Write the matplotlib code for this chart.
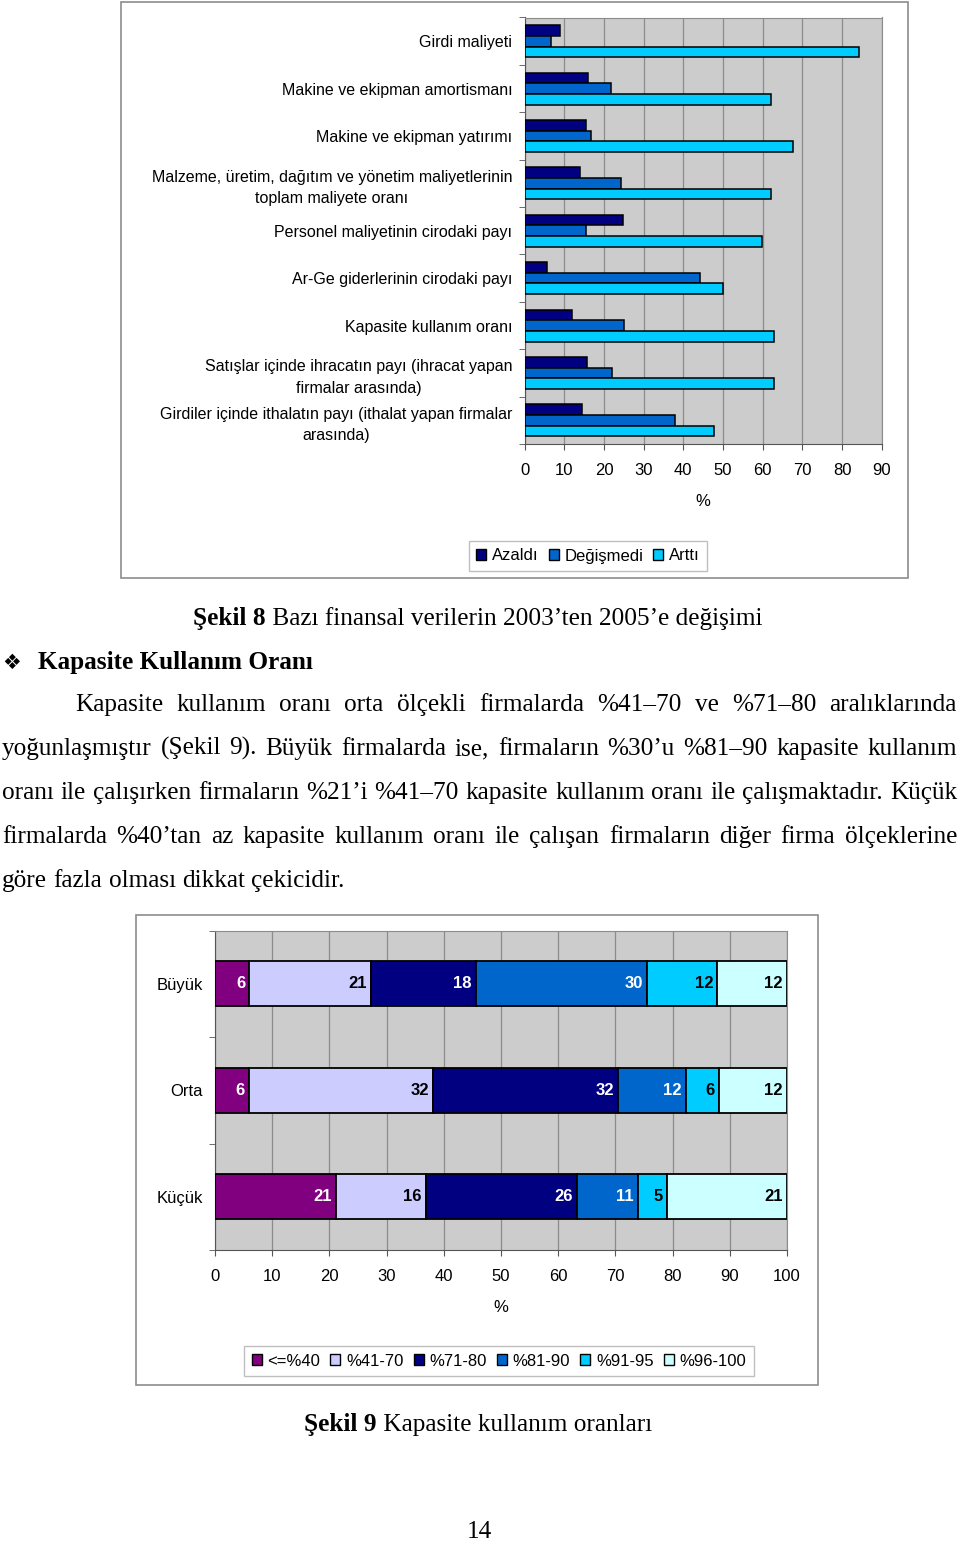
import numpy as np
import matplotlib
matplotlib.use('Agg')
import matplotlib.pyplot as plt
from matplotlib.patches import Rectangle, Patch

W, H = 960, 1541

# Şekil 8 verileri
kalemler = [
    'Girdi maliyeti',
    'Makine ve ekipman amortismanı',
    'Makine ve ekipman yatırımı',
    'Malzeme, üretim, dağıtım ve yönetim maliyetlerinin\ntoplam maliyete oranı',
    'Personel maliyetinin cirodaki payı',
    'Ar-Ge giderlerinin cirodaki payı',
    'Kapasite kullanım oranı',
    'Satışlar içinde ihracatın payı (ihracat yapan\nfirmalar arasında)',
    'Girdiler içinde ithalatın payı (ithalat yapan firmalar\narasında)',
]
azaldi = [9.0, 16.0, 15.5, 14.0, 24.7, 5.6, 12.0, 15.6, 14.5]
degismedi = [6.7, 21.8, 16.7, 24.3, 15.5, 44.2, 25.1, 21.9, 37.8]
artti = [84.4, 62.0, 67.7, 62.0, 59.7, 50.1, 62.9, 62.9, 47.8]
seriler8 = ['Azaldı', 'Değişmedi', 'Arttı']
renk8 = ['#000080', '#0066CC', '#00CCFF']
xtik8 = list(range(0, 100, 10))

# Şekil 9 verileri
olcekler = ['Büyük', 'Orta', 'Küçük']
araliklar = ['<=%40', '%41-70', '%71-80', '%81-90', '%91-95', '%96-100']
buyuk = [6.0, 21.2, 18.4, 30.0, 12.2, 12.2]
orta = [5.9, 32.2, 32.4, 11.8, 5.8, 11.9]
kucuk = [21.1, 15.8, 26.4, 10.6, 5.1, 21.0]
renk9 = ['#800080', '#CCCCFF', '#000080', '#0066CC', '#00CCFF', '#CCFFFF']
yazi_renk9 = ['white', 'black', 'white', 'white', 'black', 'black']
xtik9 = list(range(0, 110, 10))

paragraf = [
    'Kapasite kullanım oranı orta ölçekli firmalarda %41–70 ve %71–80 aralıklarında',
    'yoğunlaşmıştır (Şekil 9). Büyük firmalarda ise, firmaların %30’u %81–90 kapasite kullanım',
    'oranı ile çalışırken firmaların %21’i %41–70 kapasite kullanım oranı ile çalışmaktadır. Küçük',
    'firmalarda %40’tan az kapasite kullanım oranı ile çalışan firmaların diğer firma ölçeklerine',
    'göre fazla olması dikkat çekicidir.',
]

plt.rcParams['font.family'] = 'Liberation Sans'
SERIF = ['Liberation Serif', 'DejaVu Sans']
GRI = '#CCCCCC'
IZGARA = '#8C8C8C'

fig = plt.figure(figsize=(W / 100, H / 100), dpi=100)
fig.patch.set_facecolor('white')
r = fig.canvas.get_renderer()


def eksen(x0, y0, x1, y1):
    return fig.add_axes([x0 / W, 1 - y1 / H, (x1 - x0) / W, (y1 - y0) / H])


def kutu(x0, y0, x1, y1):
    fig.patches.append(Rectangle((x0 / W, 1 - y1 / H), (x1 - x0) / W, (y1 - y0) / H,
                                 transform=fig.transFigure, fill=False,
                                 edgecolor='#8C8C8C', lw=1.2))


def genislik(t):
    return t.get_window_extent(r).width


# ---------- Şekil 8 ----------
kutu(121, 2, 908, 578)
ax1 = eksen(524.7, 17.5, 881.7, 444)
ax1.set_facecolor(GRI)
y = np.arange(len(kalemler))
h = 0.225
for i, (deg, ad, rk) in enumerate(zip([azaldi, degismedi, artti], seriler8, renk8)):
    ax1.barh(y + (i - 1) * h, deg, height=h, color=rk, edgecolor='black', lw=1.1, zorder=3)
ax1.set_xlim(0, 90)
ax1.set_ylim(len(kalemler) - 0.5, -0.5)
ax1.set_xticks(xtik8)
ax1.xaxis.grid(True, color=IZGARA, lw=0.9, zorder=0)
ax1.set_axisbelow(True)
ax1.set_yticks(y, kalemler, fontsize=11.5)
for lbl in ax1.get_yticklabels():
    lbl.set_multialignment('center')
    lbl.set_linespacing(1.55)
ax1.set_yticks(np.arange(-0.5, len(kalemler), 1), minor=True)
ax1.tick_params(axis='y', which='major', length=0, pad=9)
ax1.tick_params(axis='y', which='minor', length=4, color='#555555', direction='out')
ax1.tick_params(axis='x', length=4, color='#555555', pad=10, labelsize=12)
for s in ['top', 'right']:
    ax1.spines[s].set_color(IZGARA)
for s in ['left', 'bottom']:
    ax1.spines[s].set_color('#555555')
fig.text(703 / W, 1 - 502 / H, '%', ha='center', va='center', fontsize=12)
fig.legend([Patch(facecolor=c, edgecolor='black') for c in renk8], seriler8,
           loc='center', bbox_to_anchor=(588 / W, 1 - 556 / H), ncol=3, fontsize=12,
           frameon=True, fancybox=False, edgecolor='#B0B0B0', handlelength=0.6,
           handleheight=0.6, handletextpad=0.35, columnspacing=0.6, borderpad=0.45)

# ---------- Şekil 9 ----------
kutu(136, 915, 818, 1385)
ax2 = eksen(215, 930.5, 787, 1250)
ax2.set_facecolor(GRI)
yy = np.arange(len(olcekler))
veri9 = np.array([buyuk, orta, kucuk])
sol = np.zeros(len(olcekler))
for j, ad in enumerate(araliklar):
    ax2.barh(yy, veri9[:, j], left=sol, height=0.42, color=renk9[j],
             edgecolor='black', lw=1.3, zorder=3)
    for k in range(len(olcekler)):
        ax2.annotate(f'{veri9[k, j]:.0f}', (sol[k] + veri9[k, j], yy[k]),
                     xytext=(-3, 0), textcoords='offset points', ha='right', va='center',
                     fontsize=12, fontweight='bold', color=yazi_renk9[j], zorder=4)
    sol += veri9[:, j]
ax2.set_xlim(0, 100)
ax2.set_ylim(len(olcekler) - 0.5, -0.5)
ax2.set_xticks(xtik9)
ax2.xaxis.grid(True, color=IZGARA, lw=0.9, zorder=0)
ax2.set_axisbelow(True)
ax2.set_yticks(yy, olcekler, fontsize=12)
ax2.set_yticks(np.arange(-0.5, len(olcekler), 1), minor=True)
ax2.tick_params(axis='y', which='major', length=0, pad=9)
ax2.tick_params(axis='y', which='minor', length=4, color='#555555', direction='out')
ax2.tick_params(axis='x', length=4, color='#555555', pad=10, labelsize=12)
for s in ['top', 'right']:
    ax2.spines[s].set_color(IZGARA)
for s in ['left', 'bottom']:
    ax2.spines[s].set_color('#555555')
fig.text(501 / W, 1 - 1308 / H, '%', ha='center', va='center', fontsize=12)
fig.legend([Patch(facecolor=c, edgecolor='black') for c in renk9], araliklar,
           loc='center', bbox_to_anchor=(499 / W, 1 - 1361 / H), ncol=6, fontsize=12,
           frameon=True, fancybox=False, edgecolor='#B0B0B0', handlelength=0.6,
           handleheight=0.6, handletextpad=0.35, columnspacing=0.6, borderpad=0.45)

# ---------- metin ----------
FS = 18.2


def baslik(kalin, duz, xc, yb):
    t1 = fig.text(0, 1 - yb / H, kalin, fontsize=FS, fontweight='bold', family=SERIF, va='baseline')
    t2 = fig.text(0, 1 - yb / H, duz, fontsize=FS, family=SERIF, va='baseline')
    w1, w2 = genislik(t1), genislik(t2)
    x0 = xc - (w1 + w2) / 2
    t1.set_x(x0 / W)
    t2.set_x((x0 + w1) / W)


def satir(metin, x0, x1, yb, yasla=True):
    parcalar = [fig.text(0, 1 - yb / H, k, fontsize=FS, family=SERIF, va='baseline')
                for k in metin.split(' ')]
    gen = [genislik(p) for p in parcalar]
    if yasla and len(parcalar) > 1:
        bosluk = (x1 - x0 - sum(gen)) / (len(parcalar) - 1)
    else:
        bosluk = genislik(fig.text(0, 0, 'a a', fontsize=FS, family=SERIF, alpha=0)) - \
            genislik(fig.text(0, 0, 'aa', fontsize=FS, family=SERIF, alpha=0))
    x = x0
    for p, g in zip(parcalar, gen):
        p.set_x(x / W)
        x += g + bosluk


baslik('Şekil 8', ' Bazı finansal verilerin 2003’ten 2005’e değişimi', 478, 625)
fig.text(12 / W, 1 - 669 / H, '❖', fontsize=15, family=['DejaVu Sans'], ha='center', va='baseline')
fig.text(38 / W, 1 - 669 / H, 'Kapasite Kullanım Oranı', fontsize=FS, fontweight='bold',
         family=SERIF, va='baseline')
satir(paragraf[0], 75, 957, 711)
for i, s in enumerate(paragraf[1:4]):
    satir(s, 2, 957, 755 + 44 * i)
satir(paragraf[4], 2, 957, 887, yasla=False)
baslik('Şekil 9', ' Kapasite kullanım oranları', 478, 1431)
fig.text(479 / W, 1 - 1538 / H, '14', fontsize=FS, family=SERIF, ha='center', va='baseline')

fig.savefig('out.png', dpi=100, facecolor='white')
